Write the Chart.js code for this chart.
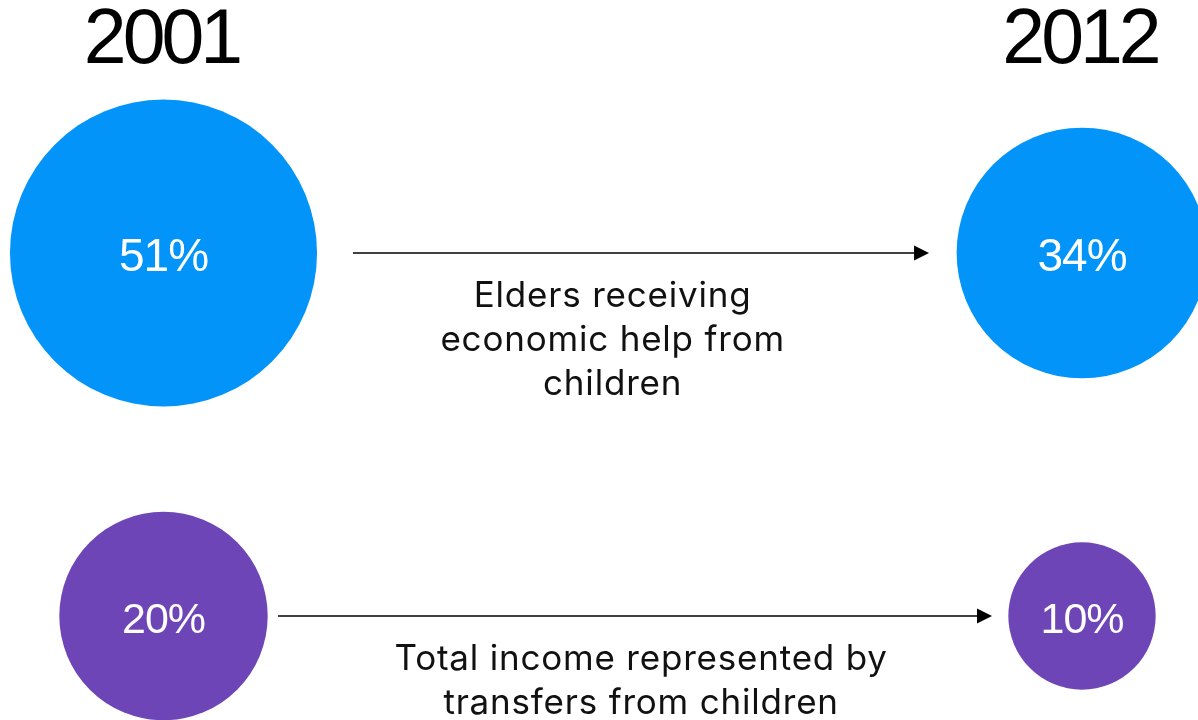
<!DOCTYPE html>
<html>
<head>
<meta charset="utf-8">
<script src="https://cdn.jsdelivr.net/npm/chart.js@4/dist/chart.umd.min.js"></script>
<style>
  html, body { margin: 0; padding: 0; background: #ffffff; }
  #wrap { width: 1198px; height: 720px; position: relative; }
</style>
</head>
<body>
<div id="wrap"><canvas id="chart"></canvas></div>
<script>
// Years compared (x axis: 0 = first year, 1 = second year)
const years = ['2001', '2012'];

// Indicators, one row each
const indicators = ['Elders receiving economic help from children',
                    'Total income represented by transfers from children'];
const indicatorLines = [
  ['Elders receiving', 'economic help from', 'children'],
  ['Total income represented by', 'transfers from children']
];

// Share (%) per year
const eldersHelped = [51, 34];
const incomeFromChildren = [20, 10];

const rowColors = ['#0394FA', '#6E45B7'];
// bubble area proportional to the value: radius = k * sqrt(value)
const radiusScale = [21.5, 23.3];
const valueFont = [46, 43];
// arrow extents and caption centre, in x-axis units
const arrowSpan = [[0.2063, 0.8335], [0.1247, 0.902]];
const captionX = [0.489, 0.52];

const rows = [eldersHelped, incomeFromChildren];

const datasets = rows.map((vals, i) => ({
  label: indicators[i],
  data: vals.map((v, j) => ({ x: j, y: 1 - i, r: radiusScale[i] * Math.sqrt(v), v: v })),
  backgroundColor: rowColors[i],
  borderWidth: 0,
  hoverBorderWidth: 0,
  hoverRadius: 0,
  clip: false
}));

const annotate = {
  id: 'annotate',
  beforeDatasetsDraw(chart) {
    const ctx = chart.ctx;
    const xs = chart.scales.x, ys = chart.scales.y;
    ctx.save();
    // arrows
    ctx.strokeStyle = '#000';
    ctx.fillStyle = '#000';
    ctx.lineWidth = 1.5;
    arrowSpan.forEach((span, i) => {
      const y = ys.getPixelForValue(1 - i);
      const x0 = xs.getPixelForValue(span[0]);
      const x1 = xs.getPixelForValue(span[1]);
      const headLen = 15, headHalf = 7.5;
      ctx.beginPath();
      ctx.moveTo(x0, y);
      ctx.lineTo(x1 - headLen + 1, y);
      ctx.stroke();
      ctx.beginPath();
      ctx.moveTo(x1, y);
      ctx.lineTo(x1 - headLen, y - headHalf);
      ctx.lineTo(x1 - headLen, y + headHalf);
      ctx.closePath();
      ctx.fill();
    });
    // captions under arrows
    ctx.font = '35px Inter, "Liberation Sans", sans-serif';
    ctx.letterSpacing = '0.8px';
    ctx.textAlign = 'center';
    ctx.textBaseline = 'alphabetic';
    ctx.fillStyle = '#111';
    indicatorLines.forEach((lines, i) => {
      const y = ys.getPixelForValue(1 - i);
      const x = xs.getPixelForValue(captionX[i]);
      lines.forEach((t, k) => ctx.fillText(t, x, y + 54 + k * 44));
    });
    // year headers
    ctx.font = '77px "Liberation Sans", Arial, sans-serif';
    ctx.letterSpacing = '-4px';
    ctx.fillStyle = '#000';
    years.forEach((yr, j) => {
      ctx.fillText(yr, xs.getPixelForValue(j) - 2, 63);
    });
    ctx.restore();
  },
  afterDatasetsDraw(chart) {
    const ctx = chart.ctx;
    ctx.save();
    ctx.fillStyle = '#ffffff';
    ctx.textAlign = 'center';
    ctx.textBaseline = 'middle';
    ctx.letterSpacing = '-1px';
    chart.data.datasets.forEach((ds, i) => {
      const meta = chart.getDatasetMeta(i);
      ctx.font = valueFont[i] + 'px "Liberation Sans", Arial, sans-serif';
      meta.data.forEach((pt, j) => {
        ctx.fillText(ds.data[j].v + '%', pt.x, pt.y + 5);
      });
    });
    ctx.restore();
  }
};

new Chart(document.getElementById('chart'), {
  type: 'bubble',
  data: { datasets },
  options: {
    responsive: true,
    maintainAspectRatio: false,
    animation: false,
    events: [],
    layout: { autoPadding: false, padding: { left: 163.5, right: 116, top: 253, bottom: 104 } },
    scales: {
      x: { type: 'linear', min: 0, max: 1, display: false },
      y: { type: 'linear', min: 0, max: 1, display: false }
    },
    plugins: { legend: { display: false }, tooltip: { enabled: false } }
  },
  plugins: [annotate]
});
</script>
</body>
</html>
